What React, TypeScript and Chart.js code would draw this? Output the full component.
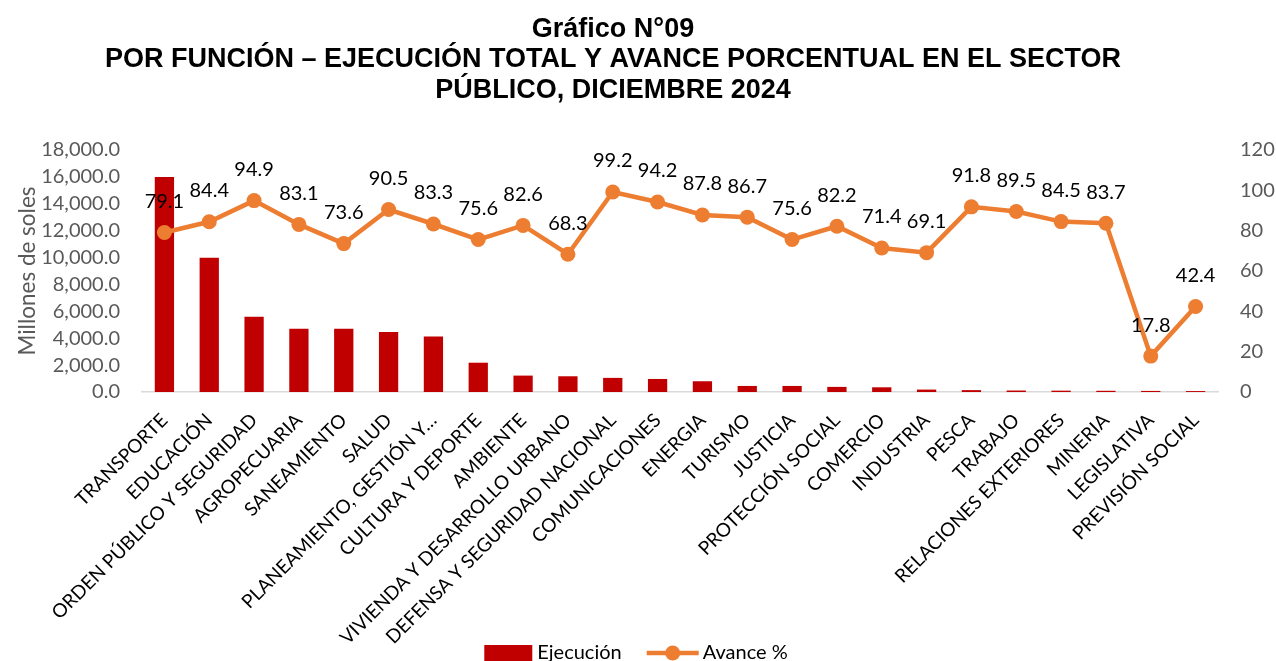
import { useEffect, useRef } from 'react';
import { Chart, registerables } from 'chart.js';

Chart.register(...registerables);

const categories = [
  'TRANSPORTE',
  'EDUCACIÓN',
  'ORDEN PÚBLICO Y SEGURIDAD',
  'AGROPECUARIA',
  'SANEAMIENTO',
  'SALUD',
  'PLANEAMIENTO, GESTIÓN Y…',
  'CULTURA Y DEPORTE',
  'AMBIENTE',
  'VIVIENDA Y DESARROLLO URBANO',
  'DEFENSA Y SEGURIDAD NACIONAL',
  'COMUNICACIONES',
  'ENERGIA',
  'TURISMO',
  'JUSTICIA',
  'PROTECCIÓN SOCIAL',
  'COMERCIO',
  'INDUSTRIA',
  'PESCA',
  'TRABAJO',
  'RELACIONES EXTERIORES',
  'MINERIA',
  'LEGISLATIVA',
  'PREVISIÓN SOCIAL',
];

const ejecucion = [
  16000, 9980, 5590, 4710, 4710, 4470, 4130, 2180, 1220, 1170, 1050, 970,
  800, 450, 450, 380, 350, 180, 140, 110, 100, 90, 80, 70,
];

const avance = [
  79.1, 84.4, 94.9, 83.1, 73.6, 90.5, 83.3, 75.6, 82.6, 68.3, 99.2, 94.2,
  87.8, 86.7, 75.6, 82.2, 71.4, 69.1, 91.8, 89.5, 84.5, 83.7, 17.8, 42.4,
];

const titleLines = [
  'Gráfico N°09',
  'POR FUNCIÓN – EJECUCIÓN TOTAL Y AVANCE PORCENTUAL EN EL SECTOR',
  'PÚBLICO, DICIEMBRE 2024',
];

const seriesNames = ['Ejecución', 'Avance %'];
const yAxisTitle = 'Millones de soles';

const BAR_COLOR = '#C00000';
const LINE_COLOR = '#ED7D31';
const TICK_COLOR = '#595959';
const FONT = 'Lato, "Noto Sans", sans-serif';

const titlePlugin = {
  id: 'customTitle',
  afterDraw(chart: any) {
    const ctx = chart.ctx;
    ctx.save();
    ctx.fillStyle = '#000';
    ctx.font = 'bold 27px "Liberation Sans", Arial, sans-serif';
    ctx.textAlign = 'center';
    ctx.textBaseline = 'alphabetic';
    const ys = [36.5, 67, 97.5];
    titleLines.forEach((t, i) => ctx.fillText(t, 613, ys[i]));
    ctx.restore();
  },
};

const dataLabelPlugin = {
  id: 'lineLabels',
  afterDatasetsDraw(chart: any) {
    const ctx = chart.ctx;
    const meta = chart.getDatasetMeta(1);
    ctx.save();
    ctx.fillStyle = '#000';
    ctx.font = `20px ${FONT}`;
    ctx.textAlign = 'center';
    ctx.textBaseline = 'middle';
    meta.data.forEach((pt: any, i: number) => {
      ctx.fillText(avance[i].toFixed(1), pt.x, pt.y - 31);
    });
    ctx.restore();
  },
};

const legendPlugin = {
  id: 'customLegend',
  afterDraw(chart: any) {
    const ctx = chart.ctx;
    ctx.save();
    ctx.font = `20px ${FONT}`;
    ctx.textBaseline = 'middle';
    ctx.textAlign = 'left';
    const y = 653;
    const w1 = ctx.measureText(seriesNames[0]).width;
    const w2 = ctx.measureText(seriesNames[1]).width;
    const total = 48 + 5 + w1 + 25 + 52 + 4 + w2;
    let x = 636 - total / 2;
    ctx.fillStyle = BAR_COLOR;
    ctx.fillRect(x, y - 8, 48, 16);
    x += 53;
    ctx.fillStyle = '#000';
    ctx.fillText(seriesNames[0], x, y);
    x += w1 + 25;
    ctx.strokeStyle = LINE_COLOR;
    ctx.lineWidth = 4.5;
    ctx.beginPath();
    ctx.moveTo(x, y);
    ctx.lineTo(x + 52, y);
    ctx.stroke();
    ctx.fillStyle = LINE_COLOR;
    ctx.beginPath();
    ctx.arc(x + 26, y, 7.5, 0, Math.PI * 2);
    ctx.fill();
    x += 56;
    ctx.fillStyle = '#000';
    ctx.fillText(seriesNames[1], x, y);
    ctx.restore();
  },
};

export default function App() {
  const ref = useRef<HTMLCanvasElement>(null);

  useEffect(() => {
    if (!ref.current) return;
    const chart = new Chart(ref.current, {
      type: 'bar',
      data: {
        labels: categories,
        datasets: [
          {
            type: 'bar',
            label: seriesNames[0],
            data: ejecucion,
            backgroundColor: BAR_COLOR,
            yAxisID: 'y',
            order: 2,
            categoryPercentage: 1,
            barPercentage: 0.43,
          },
          {
            type: 'line',
            label: seriesNames[1],
            data: avance,
            borderColor: LINE_COLOR,
            backgroundColor: LINE_COLOR,
            borderWidth: 4.5,
            pointRadius: 7.5,
            pointBorderWidth: 0,
            pointBackgroundColor: LINE_COLOR,
            yAxisID: 'y1',
            order: 1,
            tension: 0,
          },
        ],
      },
      options: {
        responsive: false,
        animation: false,
        layout: { padding: { top: 150, bottom: 10, left: 0, right: 0 } },
        plugins: {
          legend: { display: false },
          title: { display: false },
          tooltip: { enabled: false },
        },
        scales: {
          x: {
            grid: { display: false, drawTicks: false },
            border: { display: true, color: '#d9d9d9', width: 1.5 },
            ticks: {
              autoSkip: false,
              maxRotation: 45,
              minRotation: 45,
              color: '#000',
              padding: 17,
              font: { family: FONT, size: 19 },
            },
            afterFit(scale: any) {
              scale.height = 259;
            },
          },
          y: {
            position: 'left',
            min: 0,
            max: 18000,
            grid: { display: false, drawTicks: false },
            border: { display: false },
            ticks: {
              autoSkip: false,
              stepSize: 2000,
              color: TICK_COLOR,
              padding: 22,
              font: { family: FONT, size: 20 },
              callback: (v: any) =>
                Number(v).toLocaleString('en-US', {
                  minimumFractionDigits: 1,
                  maximumFractionDigits: 1,
                }),
            },
            title: {
              display: true,
              text: yAxisTitle,
              color: TICK_COLOR,
              font: { family: FONT, size: 22.5 },
              padding: { top: 14, bottom: 0 },
            },
            afterFit(scale: any) {
              scale.width = 142;
            },
          },
          y1: {
            position: 'right',
            min: 0,
            max: 120,
            grid: { display: false, drawTicks: false },
            border: { display: false },
            ticks: {
              autoSkip: false,
              stepSize: 20,
              color: TICK_COLOR,
              padding: 22,
              font: { family: FONT, size: 20 },
            },
            afterFit(scale: any) {
              scale.width = 58;
            },
          },
        },
      },
      plugins: [titlePlugin, dataLabelPlugin, legendPlugin],
    } as any);
    return () => chart.destroy();
  }, []);

  return (
    <div style={{ position: 'absolute', left: 0, top: 0, width: 1276, height: 661, background: '#fff' }}>
      <canvas ref={ref} width={1276} height={661} />
    </div>
  );
}
